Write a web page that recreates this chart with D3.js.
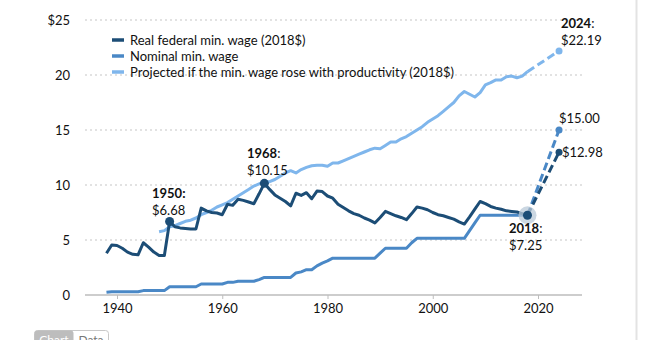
<!DOCTYPE html>
<html>
<head>
<meta charset="utf-8">
<script src="https://cdn.jsdelivr.net/npm/d3@7"></script>
<style>
  body { margin: 0; background: #fff; }
  svg { display: block; font-family: Lato, "Open Sans", sans-serif; }
</style>
</head>
<body>
<div id="chart"></div>
<script>
// data
const wageYears = d3.range(1938, 2019);
const realWage = [
  3.8, 4.55, 4.5, 4.25, 3.9, 3.7, 3.65, 4.75, 4.35, 3.9, 3.6, 3.6,        // 1938-1949
  6.68, 6.2, 6.1, 6.05, 6.0, 6.0, 7.9, 7.65, 7.5, 7.45,                  // 1950-1959
  7.3, 8.25, 8.15, 8.7, 8.6, 8.45, 8.3, 9.2, 10.15, 9.6,                 // 1960-1969
  9.1, 8.8, 8.5, 8.1, 9.25, 9.05, 9.3, 8.75, 9.45, 9.4,                  // 1970-1979
  9.0, 8.8, 8.25, 7.95, 7.65, 7.4, 7.25, 7.0, 6.8, 6.55,                 // 1980-1989
  7.05, 7.6, 7.4, 7.2, 7.05, 6.85, 7.4, 8.0, 7.9, 7.75,                  // 1990-1999
  7.5, 7.3, 7.2, 7.05, 6.9, 6.65, 6.45, 7.1, 7.8, 8.5,                   // 2000-2009
  8.3, 8.05, 7.9, 7.8, 7.65, 7.6, 7.55, 7.4, 7.25                        // 2010-2018
];
const nominalWage = [
  0.25, 0.30, 0.30, 0.30, 0.30, 0.30, 0.30, 0.40, 0.40, 0.40, 0.40, 0.40,
  0.75, 0.75, 0.75, 0.75, 0.75, 0.75, 1.00, 1.00, 1.00, 1.00,
  1.00, 1.15, 1.15, 1.25, 1.25, 1.25, 1.25, 1.40, 1.60, 1.60,
  1.60, 1.60, 1.60, 1.60, 2.00, 2.10, 2.30, 2.30, 2.65, 2.90,
  3.10, 3.35, 3.35, 3.35, 3.35, 3.35, 3.35, 3.35, 3.35, 3.35,
  3.80, 4.25, 4.25, 4.25, 4.25, 4.25, 4.75, 5.15, 5.15, 5.15,
  5.15, 5.15, 5.15, 5.15, 5.15, 5.15, 5.15, 5.85, 6.55, 7.25,
  7.25, 7.25, 7.25, 7.25, 7.25, 7.25, 7.25, 7.25, 7.25
];
const prodYears = d3.range(1948, 2019);
const prodWage = [
  5.75, 5.85,                                                            // 1948-1949
  6.2, 6.3, 6.5, 6.7, 6.8, 7.0, 7.3, 7.5, 7.7, 8.0,                      // 1950s
  8.2, 8.4, 8.7, 9.0, 9.3, 9.6, 9.9, 10.1, 10.3, 10.3,                   // 1960s
  10.5, 10.8, 11.1, 11.3, 11.1, 11.4, 11.6, 11.75, 11.8, 11.8,           // 1970s
  11.7, 12.0, 12.0, 12.2, 12.4, 12.6, 12.8, 13.0, 13.2, 13.35,           // 1980s
  13.3, 13.6, 13.9, 13.9, 14.2, 14.4, 14.7, 15.0, 15.3, 15.7,            // 1990s
  16.0, 16.3, 16.7, 17.1, 17.5, 18.1, 18.5, 18.25, 18.0, 18.4,           // 2000s
  19.1, 19.3, 19.55, 19.55, 19.85, 19.9, 19.75, 19.9, 20.3               // 2010-2018
];
const projYears = [2018, 2024];
const realProj = [7.25, 12.98];
const nominalProj = [7.25, 15.00];
const prodProj = [20.3, 22.19];

const yTicks = [0, 5, 10, 15, 20, 25];
const yTickLabels = ['0', '5', '10', '15', '20', '$25'];
const xTicks = [1940, 1960, 1980, 2000, 2020];

const seriesNames = [
  'Real federal min. wage (2018$)',
  'Nominal min. wage',
  'Projected if the min. wage rose with productivity (2018$)'
];
const colors = ['#1c4d76', '#4a88c6', '#7fb6ec'];

const width = 646;
const height = 340;

const svg = d3.select('#chart')
  .append('svg')
  .attr('width', width)
  .attr('height', height);

const x = d3.scaleLinear().domain([1940, 2020]).range([117, 538]);
const y = d3.scaleLinear().domain([0, 25]).range([295, 20]);
const plotLeft = 85;
const plotRight = 582;

// gridlines
svg.append('g')
  .selectAll('line')
  .data(yTicks.filter((d) => d > 0))
  .enter()
  .append('line')
  .attr('x1', plotLeft)
  .attr('x2', plotRight)
  .attr('y1', (d) => y(d))
  .attr('y2', (d) => y(d))
  .attr('stroke', '#d9d9d9')
  .attr('stroke-width', 1.5)
  .attr('stroke-dasharray', '2,3');

// y labels
svg.append('g')
  .selectAll('text')
  .data(yTicks)
  .enter()
  .append('text')
  .attr('x', 70)
  .attr('y', (d) => y(d))
  .attr('dy', '0.35em')
  .attr('text-anchor', 'end')
  .attr('font-size', 13)
  .attr('fill', '#111')
  .text((d, i) => yTickLabels[i]);

// x axis
const xAxis = svg.append('g')
  .attr('transform', `translate(0,${y(0)})`)
  .call(d3.axisBottom(x).tickValues(xTicks).tickFormat(d3.format('d')).tickSize(4).tickPadding(5));
xAxis.select('.domain').remove();
xAxis.append('line')
  .attr('x1', plotLeft)
  .attr('x2', plotRight)
  .attr('stroke', '#bdbdbd')
  .attr('stroke-width', 1.5);
xAxis.selectAll('.tick line').attr('stroke', '#bdbdbd');
xAxis.selectAll('.tick text')
  .attr('font-size', 13)
  .attr('font-family', 'Lato, sans-serif')
  .attr('fill', '#111');

const line = d3.line()
  .x((d) => x(d[0]))
  .y((d) => y(d[1]));

const zip = (ys, vs) => ys.map((yr, i) => [yr, vs[i]]);

// productivity line
svg.append('path')
  .datum(zip(prodYears, prodWage))
  .attr('d', line)
  .attr('fill', 'none')
  .attr('stroke', colors[2])
  .attr('stroke-width', 3)
  .attr('stroke-linejoin', 'round');

// nominal line
svg.append('path')
  .datum(zip(wageYears, nominalWage))
  .attr('d', line)
  .attr('fill', 'none')
  .attr('stroke', colors[1])
  .attr('stroke-width', 3)
  .attr('stroke-linejoin', 'round');

// real line
svg.append('path')
  .datum(zip(wageYears, realWage))
  .attr('d', line)
  .attr('fill', 'none')
  .attr('stroke', colors[0])
  .attr('stroke-width', 3)
  .attr('stroke-linejoin', 'round');

// projections (dashed)
const projections = [
  { values: prodProj, color: colors[2] },
  { values: nominalProj, color: colors[1] },
  { values: realProj, color: colors[0] }
];
projections.forEach((p) => {
  svg.append('path')
    .datum(zip(projYears, p.values))
    .attr('d', line)
    .attr('fill', 'none')
    .attr('stroke', p.color)
    .attr('stroke-width', 3)
    .attr('stroke-dasharray', '8,4');
  svg.append('circle')
    .attr('cx', x(projYears[1]))
    .attr('cy', y(p.values[1]))
    .attr('r', 3.5)
    .attr('fill', p.color);
});

// highlighted points
svg.append('circle')
  .attr('cx', x(2018))
  .attr('cy', y(7.25))
  .attr('r', 9)
  .attr('fill', '#b9c9d8')
  .attr('opacity', 0.75);
[[1950, 6.68], [1968, 10.15], [2018, 7.25]].forEach((d) => {
  svg.append('circle')
    .attr('cx', x(d[0]))
    .attr('cy', y(d[1]))
    .attr('r', 4.5)
    .attr('fill', colors[0]);
});

// annotations
const notes = [
  { year: '1950', colon: true, value: '$6.68', x: 152, y: 198 },
  { year: '1968', colon: false, value: '$10.15', x: 247, y: 158 },
  { year: '2018', colon: false, value: '$7.25', x: 509, y: 233 },
  { year: '2024', colon: false, value: '$22.19', x: 561, y: 28 }
];
notes.forEach((n) => {
  const t = svg.append('text')
    .attr('x', n.x)
    .attr('y', n.y)
    .attr('font-size', 13)
    .attr('fill', '#111');
  t.append('tspan').attr('font-weight', 'bold').text(n.year);
  t.append('tspan').attr('font-weight', n.colon ? 'bold' : 'normal').text(':');
  svg.append('text')
    .attr('x', n.x)
    .attr('y', n.y + 17)
    .attr('font-size', 13)
    .attr('fill', '#111')
    .text(n.value);
});
svg.append('text')
  .attr('x', 559)
  .attr('y', 123)
  .attr('font-size', 13)
  .attr('fill', '#111')
  .text('$15.00');
svg.append('text')
  .attr('x', 562)
  .attr('y', 157)
  .attr('font-size', 13)
  .attr('fill', '#111')
  .text('$12.98');

// legend
const legend = svg.append('g').attr('transform', 'translate(112,40)');
seriesNames.forEach((name, i) => {
  const row = legend.append('g').attr('transform', `translate(0,${i * 16})`);
  row.append('line')
    .attr('x1', 0)
    .attr('x2', 12)
    .attr('stroke', colors[i])
    .attr('stroke-width', 3.5);
  row.append('text')
    .attr('x', 18)
    .attr('dy', '0.35em')
    .attr('font-size', 13)
    .attr('fill', '#111')
    .text(name);
});

// right border
svg.append('line')
  .attr('x1', 636.5)
  .attr('x2', 636.5)
  .attr('y1', 0)
  .attr('y2', height)
  .attr('stroke', '#e3e3e3')
  .attr('stroke-width', 2);

// Chart / Data tabs (cut off at the bottom)
const tabs = svg.append('g').attr('transform', 'translate(34,330)');
tabs.append('rect')
  .attr('x', 0.5).attr('y', 0.5).attr('width', 74).attr('height', 20)
  .attr('rx', 3)
  .attr('fill', '#fff')
  .attr('stroke', '#c8c8c8');
tabs.append('rect')
  .attr('x', 0.5).attr('y', 0.5).attr('width', 39).attr('height', 20)
  .attr('rx', 3)
  .attr('fill', '#bdbdbd');
tabs.append('text')
  .attr('x', 20).attr('y', 14)
  .attr('text-anchor', 'middle')
  .attr('font-size', 12)
  .attr('fill', '#fff')
  .text('Chart');
tabs.append('text')
  .attr('x', 57).attr('y', 14)
  .attr('text-anchor', 'middle')
  .attr('font-size', 12)
  .attr('fill', '#777')
  .text('Data');
</script>
</body>
</html>
